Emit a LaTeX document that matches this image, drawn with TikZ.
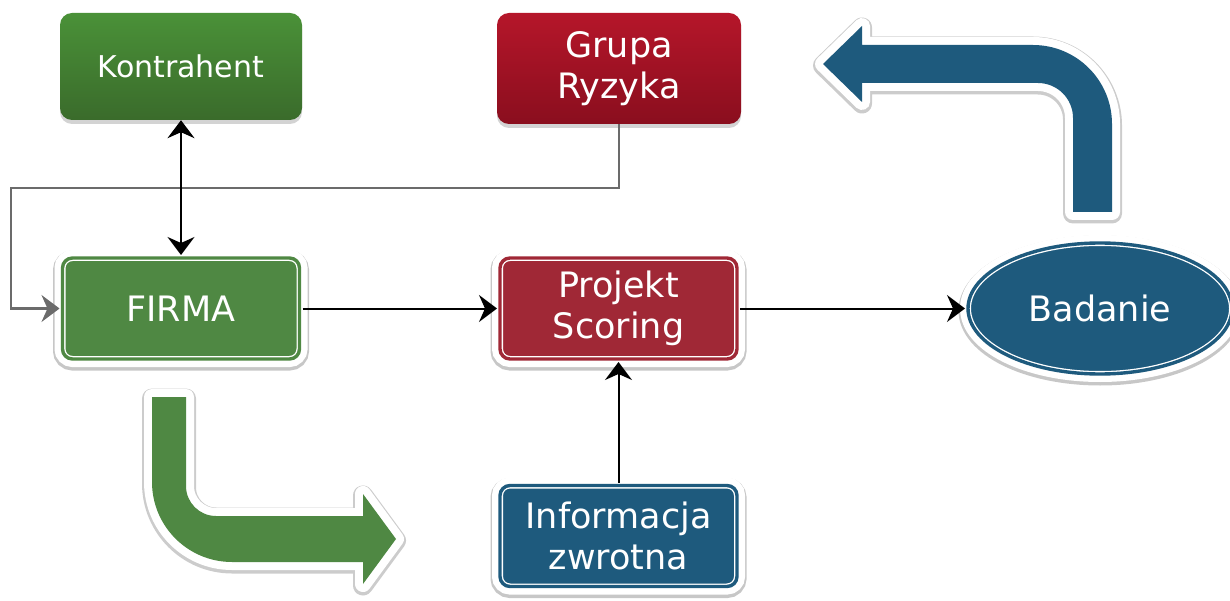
\documentclass[tikz,border=0pt]{standalone}
\usepackage{fontspec}
\setmainfont{DejaVu Sans}
\usetikzlibrary{shapes.geometric,shadows,arrows.meta}
\definecolor{konT}{HTML}{4A9138}
\definecolor{konB}{HTML}{3A6B2B}
\definecolor{grpT}{HTML}{B5162A}
\definecolor{grpB}{HTML}{8A0E1E}
\definecolor{firmaC}{HTML}{4F8843}
\definecolor{projC}{HTML}{A02836}
\definecolor{blueC}{HTML}{1E5A7D}
\definecolor{lineG}{HTML}{6B6B6B}
\begin{document}
\begin{tikzpicture}[x=1pt,y=1pt,
  txt/.style={text=white, align=center, inner sep=0pt, font=\fontsize{35}{41}\selectfont},
  topbox/.style={txt, rounded corners=12pt, minimum width=242pt, minimum height=107pt,
    drop shadow={shadow xshift=0pt,shadow yshift=-4pt,opacity=.35}},
  dblbox/.style={txt, rounded corners=10pt, minimum width=237pt, minimum height=101pt,
    preaction={draw=black!22, line width=19pt, transform canvas={yshift=-2pt}},
    preaction={draw=white, line width=16pt},
    fill=#1, draw=white, line width=6pt,
    postaction={draw=#1, line width=3.4pt}},
  conn/.style={draw=black, line width=2pt},
  gconn/.style={draw=lineG, line width=2.2pt},
  tipend/.style={-{Stealth[length=18pt,width=27pt,inset=6pt]}},
  tipboth/.style={{Stealth[length=18pt,width=27pt,inset=6pt]}-{Stealth[length=18pt,width=27pt,inset=6pt]}},
  bigarrow/.style={fill=#1, line join=round,
    preaction={draw=black!20, line width=20pt, line join=round, transform canvas={yshift=-1.5pt}},
    preaction={draw=white, line width=16pt, line join=round}}
]
\useasboundingbox (0,0) rectangle (1230,-601);

% big bent arrows
\path[bigarrow=firmaC] (152,-397) -- (152,-482) arc[start angle=180,end angle=270,radius=80]
  -- (363,-562) -- (363,-584) -- (396,-539) -- (363,-494) -- (363,-516) -- (216,-516)
  arc[start angle=270,end angle=180,radius=30] -- (186,-397) -- cycle;
\path[bigarrow=blueC] (1073,-212) -- (1073,-118) arc[start angle=0,end angle=90,radius=35]
  -- (862,-83) -- (862,-102) -- (823,-64) -- (862,-26) -- (862,-45) -- (1033,-45)
  arc[start angle=90,end angle=0,radius=79] -- (1112,-212) -- cycle;

% nodes
\node[topbox, top color=konT, bottom color=konB, font=\fontsize{30}{36}\selectfont] (kon) at (181,-66.5) {Kontrahent};
\node[topbox, top color=grpT, bottom color=grpB, minimum width=244pt, minimum height=111pt] (grp) at (619,-68.5) {Grupa\\Ryzyka};
\node[dblbox=firmaC] (firma) at (181,-308.5) {FIRMA};
\node[dblbox=projC] (proj) at (618.5,-308.5) {Projekt\\Scoring};
\node[dblbox=blueC] (info) at (618.5,-536) {Informacja\\zwrotna};
\node[dblbox=blueC, ellipse, rounded corners=0pt, minimum width=264pt, minimum height=131pt] (bad) at (1100,-308.5) {Badanie};

% connectors
\coordinate (g1) at (11,-188);
\draw[gconn,tipend] (grp.south) |- (g1) |- (firma.west);
\draw[conn,tipboth] (kon.south) -- (firma.north);
\draw[conn,tipend] (firma.east) -- (proj.west);
\draw[conn,tipend] (proj.east) -- (bad.west);
\draw[conn,tipend] (info.north) -- (proj.south);
\end{tikzpicture}
\end{document}
